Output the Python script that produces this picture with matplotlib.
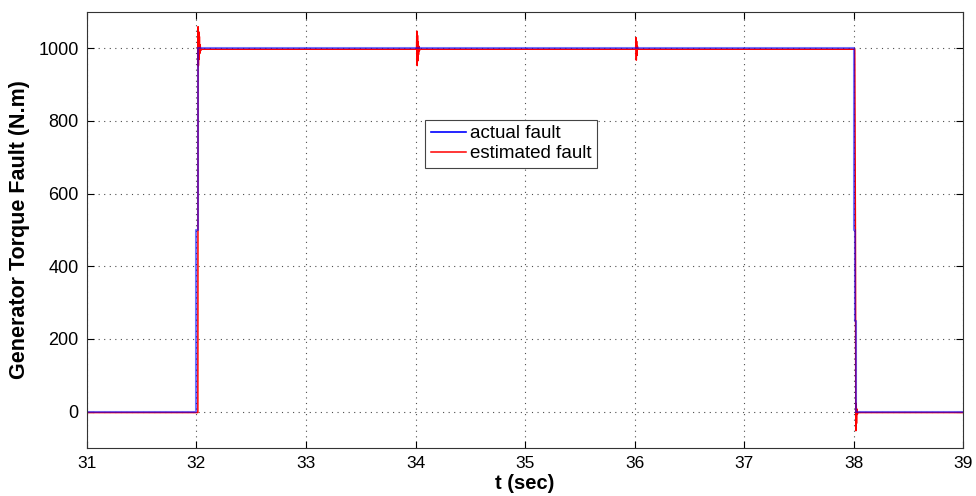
import matplotlib
matplotlib.use("Agg")
import matplotlib.pyplot as plt
import matplotlib.transforms as mtransforms
from matplotlib import font_manager

# ---- data ----
t_actual = [31, 32, 32, 32.01, 32.01, 38, 38, 38.004, 38.004, 38.008, 38.008,
            38.012, 38.012, 38.016, 38.016, 39]
f_actual = [0, 0, 500, 500, 1000, 1000, 750, 750, 500, 500, 250, 250, 250, 250, 0, 0]

t_est = [31, 32.004, 32.006, 32.009, 32.012, 32.015, 32.018, 32.021, 32.025, 32.029, 32.035,
         34.0, 34.003, 34.006, 34.009, 34.012, 34.015, 34.018, 34.022, 34.026, 34.03,
         36.0, 36.003, 36.006, 36.009, 36.012, 36.016, 36.02,
         38.0, 38.006, 38.010, 38.013, 38.016, 38.019, 38.023, 38.03, 39]
f_est = [0, 0, 1062, 955, 1048, 972, 1035, 988, 1012, 996, 1000,
         1000, 1050, 955, 1038, 968, 1020, 985, 1008, 996, 1000,
         1000, 1032, 970, 1022, 983, 1008, 1000,
         1000, 500, -50, 25, -30, 10, -5, 0, 0]

xticks = [31, 32, 33, 34, 35, 36, 37, 38, 39]
yticks = [0, 200, 400, 600, 800, 1000]

names = {f.name for f in font_manager.fontManager.ttflist}
narrow = "Liberation Sans Narrow" if "Liberation Sans Narrow" in names else "Liberation Sans"

plt.rcParams['font.family'] = ['Liberation Sans', 'DejaVu Sans']

fig = plt.figure(figsize=(9.76, 4.96), dpi=100)
ax = fig.add_axes([0.089, 0.097, 0.898, 0.879])

shift = mtransforms.offset_copy(ax.transData, fig=fig, x=1, y=-1, units='dots')
ax.plot(t_est, f_est, color='#ff0000', lw=1.1, label='estimated fault', transform=shift)
ax.plot(t_actual, f_actual, color='#0000ff', lw=1.5, label='actual fault', alpha=0.55)

ax.set_xlim(31, 39)
ax.set_ylim(-100, 1100)
ax.set_xticks(xticks)
ax.set_yticks(yticks)
ax.set_xticklabels([str(x) for x in xticks], fontsize=12.5, family=narrow)
ax.set_yticklabels([str(y) for y in yticks], fontsize=13)
ax.tick_params(direction='in', length=5, width=0.8, top=True, right=True, pad=6)
ax.grid(True, linestyle=(0, (1, 4)), color='black', linewidth=0.8, alpha=0.7)
for s in ax.spines.values():
    s.set_linewidth(0.8)
    s.set_color('#333333')

ax.set_xlabel('t (sec)', fontsize=14.5, fontweight='bold', labelpad=2)
ax.set_ylabel('Generator Torque Fault (N.m)', fontsize=15.5, fontweight='bold', labelpad=6)

handles, labels = ax.get_legend_handles_labels()
leg = ax.legend(handles[::-1], labels[::-1], loc='upper left',
                bbox_to_anchor=(0.386, 0.753), fontsize=13.5,
                fancybox=False, framealpha=1, edgecolor='#444444',
                borderpad=0.3, handlelength=1.9, handletextpad=0.2, labelspacing=0.15,
                borderaxespad=0)
leg.get_frame().set_linewidth(0.8)
leg.get_lines()[0].set_alpha(1)
leg.get_lines()[0].set_linewidth(1.2)

fig.savefig('out.png', dpi=100)
